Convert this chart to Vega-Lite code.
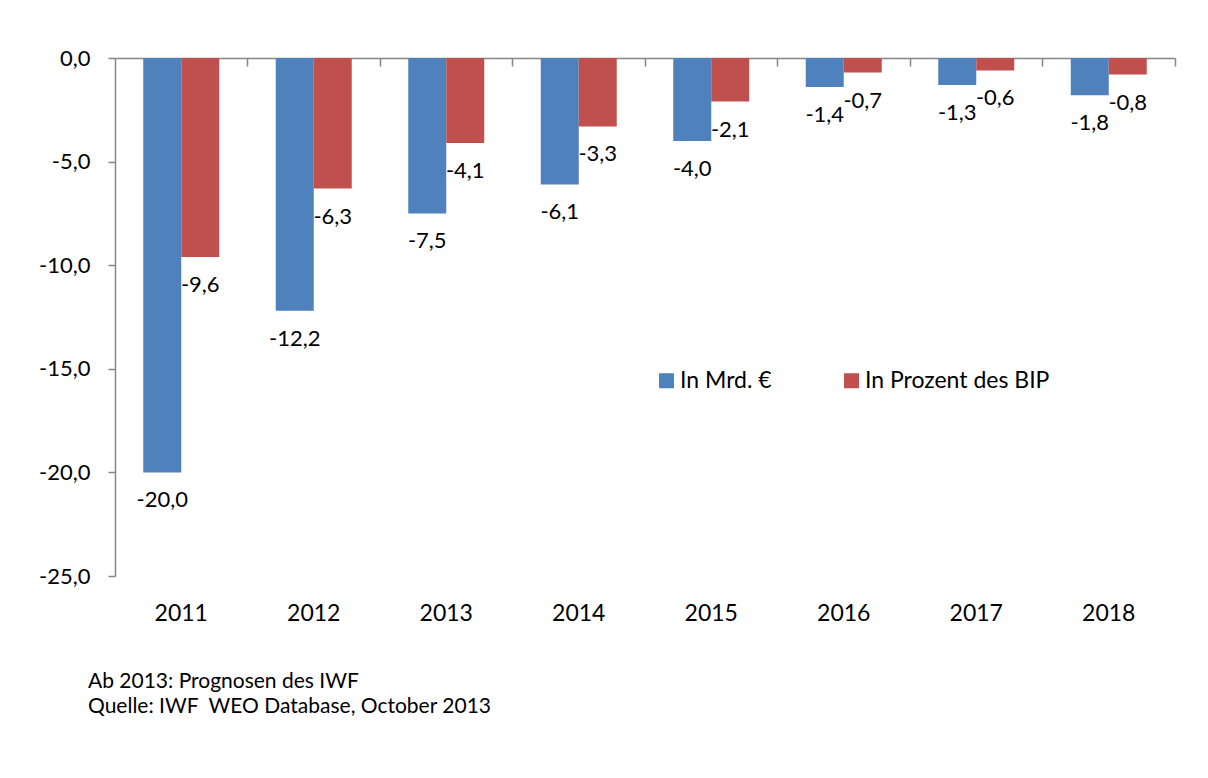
{
  "$schema": "https://vega.github.io/schema/vega-lite/v6.json",
  "autosize": {"type": "none"},
  "padding": {"left": 115, "top": 58, "right": 33, "bottom": 202},
  "width": 1060,
  "height": 518,
  "background": "white",
  "title": {
    "text": ["Ab 2013: Prognosen des IWF", "Quelle: IWF\u00a0 WEO Database, October 2013"],
    "orient": "bottom",
    "anchor": "start",
    "frame": "group",
    "dx": -27,
    "offset": 46,
    "font": "Lato",
    "fontSize": 21,
    "fontWeight": "normal",
    "lineHeight": 25,
    "color": "#000000"
  },
  "data": {
    "values": [
      {"Jahr": "2011", "Reihe": "In Mrd. €", "Wert": -20.0},
      {"Jahr": "2011", "Reihe": "In Prozent des BIP", "Wert": -9.6},
      {"Jahr": "2012", "Reihe": "In Mrd. €", "Wert": -12.2},
      {"Jahr": "2012", "Reihe": "In Prozent des BIP", "Wert": -6.3},
      {"Jahr": "2013", "Reihe": "In Mrd. €", "Wert": -7.5},
      {"Jahr": "2013", "Reihe": "In Prozent des BIP", "Wert": -4.1},
      {"Jahr": "2014", "Reihe": "In Mrd. €", "Wert": -6.1},
      {"Jahr": "2014", "Reihe": "In Prozent des BIP", "Wert": -3.3},
      {"Jahr": "2015", "Reihe": "In Mrd. €", "Wert": -4.0},
      {"Jahr": "2015", "Reihe": "In Prozent des BIP", "Wert": -2.1},
      {"Jahr": "2016", "Reihe": "In Mrd. €", "Wert": -1.4},
      {"Jahr": "2016", "Reihe": "In Prozent des BIP", "Wert": -0.7},
      {"Jahr": "2017", "Reihe": "In Mrd. €", "Wert": -1.3},
      {"Jahr": "2017", "Reihe": "In Prozent des BIP", "Wert": -0.6},
      {"Jahr": "2018", "Reihe": "In Mrd. €", "Wert": -1.8},
      {"Jahr": "2018", "Reihe": "In Prozent des BIP", "Wert": -0.8}
    ]
  },
  "encoding": {
    "x": {
      "field": "Jahr",
      "type": "nominal",
      "scale": {"paddingInner": 0.4264, "paddingOuter": 0.2132}
    },
    "xOffset": {"field": "Reihe", "type": "nominal", "scale": {"paddingInner": 0, "paddingOuter": 0}},
    "y": {
      "field": "Wert",
      "type": "quantitative",
      "scale": {"domain": [-25, 0], "nice": false, "zero": true},
      "axis": {
        "values": [0, -5, -10, -15, -20, -25],
        "format": ".1f",
        "title": null,
        "grid": false,
        "domain": true,
        "domainColor": "#868686",
        "domainWidth": 1.5,
        "ticks": true,
        "tickColor": "#868686",
        "tickWidth": 1.5,
        "tickSize": 7,
        "labelPadding": 18,
        "labelFont": "Lato",
        "labelFontSize": 22,
        "labelColor": "#000000"
      }
    }
  },
  "layer": [
    {
      "mark": {"type": "bar"},
      "encoding": {
        "x": {
          "field": "Jahr",
          "type": "nominal",
          "axis": {
            "orient": "bottom",
            "title": null,
            "domain": false,
            "ticks": false,
            "labelAngle": 0,
            "labelPadding": 26,
            "labelFont": "Lato",
            "labelFontSize": 23,
            "labelColor": "#000000"
          }
        },
        "color": {
          "field": "Reihe",
          "type": "nominal",
          "scale": {"domain": ["In Mrd. €", "In Prozent des BIP"], "range": ["#4F81BD", "#C0504D"]},
          "legend": {
            "orient": "none",
            "direction": "horizontal",
            "legendX": 540,
            "legendY": 311,
            "title": null,
            "symbolType": "square",
            "symbolSize": 225,
            "symbolStrokeWidth": 0,
            "labelOffset": 2,
            "columnPadding": 68,
            "labelFont": "Lato",
            "labelFontSize": 23,
            "labelColor": "#000000",
            "labelLimit": 400
          }
        }
      }
    },
    {
      "mark": {"type": "text", "baseline": "middle", "align": "center", "dy": 28, "font": "Lato", "fontSize": 22, "color": "#000000"},
      "encoding": {
        "x": {
          "field": "Jahr",
          "type": "nominal",
          "axis": {
            "orient": "top",
            "title": null,
            "labels": false,
            "domain": true,
            "domainColor": "#868686",
            "domainWidth": 1.5,
            "ticks": true,
            "tickColor": "#868686",
            "tickWidth": 1.5,
            "tickSize": -8,
            "bandPosition": 1.3717
          }
        },
        "text": {"field": "Wert", "type": "quantitative", "format": ".1f"}
      }
    }
  ],
  "resolve": {"axis": {"x": "independent"}},
  "config": {
    "view": {"stroke": null},
    "locale": {"number": {"decimal": ",", "thousands": ".", "grouping": [3], "currency": ["", " €"], "minus": "-"}}
  }
}
